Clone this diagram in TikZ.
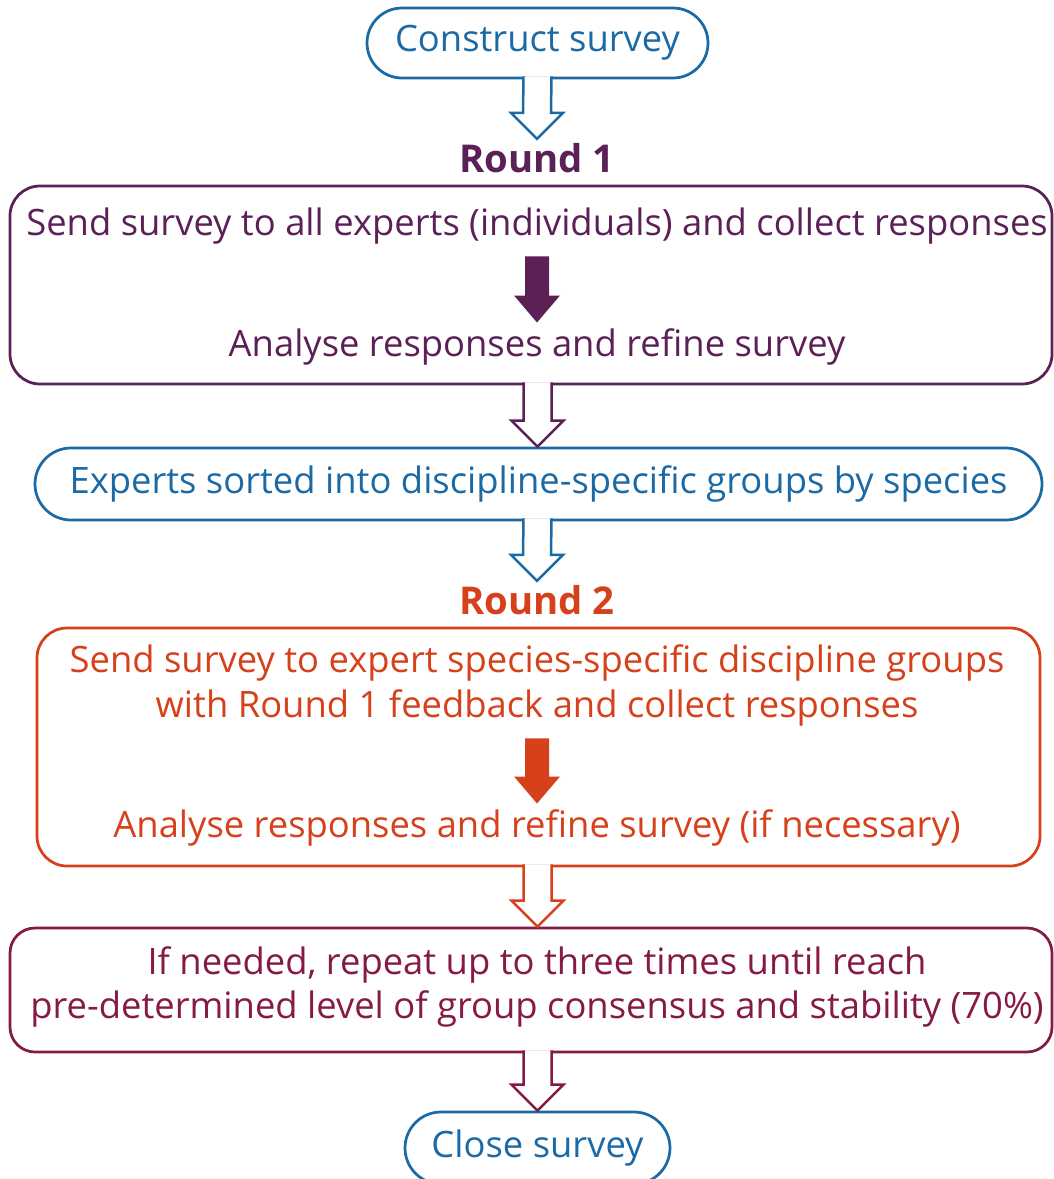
\documentclass[tikz,border=0pt]{standalone}
\usepackage{fontspec}
\setmainfont{Open Sans}
\usetikzlibrary{positioning, calc}
\definecolor{surveyblue}{HTML}{1B6AA5}
\definecolor{roundpurple}{HTML}{5B2157}
\definecolor{roundorange}{HTML}{D6401A}
\definecolor{repeatmaroon}{HTML}{861A46}

\begin{document}
\begin{tikzpicture}[
        x=0.2mm, y=0.2mm,
        every node/.style={font=\fontsize{20.7}{25.5}\selectfont, align=center},
        pill/.style={draw=surveyblue, text=surveyblue, line width=0.55mm, inner sep=0pt},
        stage/.style={line width=0.55mm, rounded corners=6mm, inner sep=0pt},
        roundlabel/.style={font=\fontsize{21.8}{25}\selectfont\bfseries, inner sep=0.8mm},
        hollow/.style={line width=0.5mm, fill=white, line join=miter, to path={
            ($(\tikztostart)+(-14,3)$) -- ($(\tikztotarget)+(-14,26)$)
            -- ($(\tikztotarget)+(-26,26)$) -- (\tikztotarget)
            -- ($(\tikztotarget)+(26,26)$) -- ($(\tikztotarget)+(14,26)$)
            -- ($(\tikztostart)+(14,3)$)}},
        solidarr/.style={draw=none, to path={
            ($(\tikztostart)+(-12,0)$) -- ($(\tikztotarget)+(-12,27)$)
            -- ($(\tikztotarget)+(-23,27)$) -- (\tikztotarget)
            -- ($(\tikztotarget)+(23,27)$) -- ($(\tikztotarget)+(12,27)$)
            -- ($(\tikztostart)+(12,0)$) -- cycle}},
    ]
    \useasboundingbox (0,0) rectangle (1053,-1179);

    % Start
    \node[pill, rounded corners=7mm, minimum width=68.2mm, minimum height=14mm] (construct) at (537.5,-43) {Construct survey};

    % Round 1
    \node[roundlabel, text=roundpurple] (round1) at (537,-158) {Round 1};
    \node[stage, draw=roundpurple, minimum width=208.4mm, minimum height=39.6mm] (box1) at (531,-285) {};
    \node[text=roundpurple] (send1) at (537,-226) {Send survey to all experts (individuals) and collect responses};
    \node[text=roundpurple] (analyse1) at (537,-347) {Analyse responses and refine survey};

    % Sorting into groups
    \node[pill, rounded corners=7.2mm, minimum width=201.4mm, minimum height=14.4mm] (sorted) at (538.5,-484) {Experts sorted into discipline-specific groups by species};

    % Round 2
    \node[roundlabel, text=roundorange] (round2) at (537,-600) {Round 2};
    \node[stage, draw=roundorange, minimum width=200.6mm, minimum height=47.6mm] (box2) at (538.5,-747) {};
    \node[text=roundorange] (send2) at (537,-685.5) {Send survey to expert species-specific discipline groups\\with Round 1 feedback and collect responses};
    \node[text=roundorange] (analyse2) at (537,-828) {Analyse responses and refine survey (if necessary)};

    % Repeat and close
    \node[stage, draw=repeatmaroon, text=repeatmaroon, rounded corners=5mm, minimum width=208.4mm, minimum height=24.8mm] (repeat) at (531,-990) {};
    \node[text=repeatmaroon] (repeattext) at (537,-987) {If needed, repeat up to three times until reach\\pre-determined level of group consensus and stability (70\%)};
    \node[pill, rounded corners=7.2mm, minimum width=53mm, minimum height=14.4mm] (close) at (537.5,-1148) {Close survey};

    % Arrows between the stages
    \draw[hollow, draw=surveyblue] (construct.south) to (round1.north);
    \draw[hollow, draw=roundpurple] (box1.south -| construct.south) to (sorted.north -| construct.south);
    \draw[hollow, draw=surveyblue] (sorted.south -| construct.south) to (round2.north);
    \draw[hollow, draw=roundorange] (box2.south -| construct.south) to (repeat.north -| construct.south);
    \draw[hollow, draw=repeatmaroon] (repeat.south -| construct.south) to (close.north);

    % Arrows inside the rounds
    \fill[solidarr, roundpurple] ([yshift=-1.2mm]send1.south) to (analyse1.north);
    \fill[solidarr, roundorange] ([yshift=-1.2mm]send2.south) to (analyse2.north);
\end{tikzpicture}
\end{document}
